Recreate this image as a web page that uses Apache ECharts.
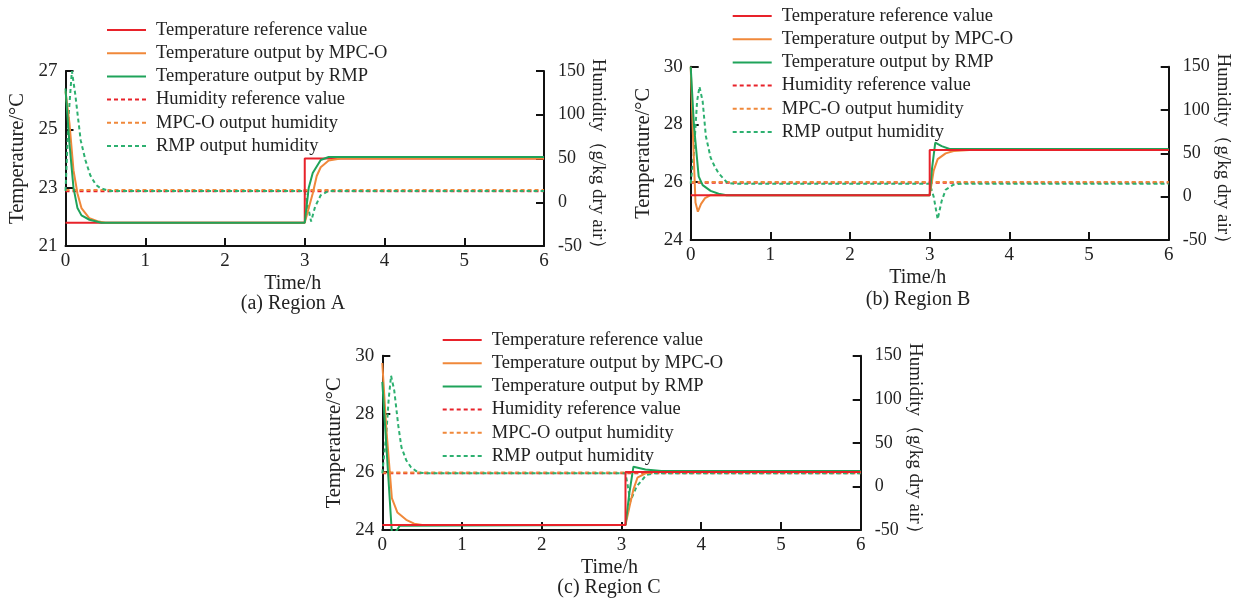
<!DOCTYPE html>
<html>
<head>
<meta charset="utf-8">
<script src="https://cdn.jsdelivr.net/npm/echarts@6/dist/echarts.min.js"></script>
<style>
  html, body { margin: 0; padding: 0; background: #fff; }
  #main { width: 1245px; height: 606px; }
</style>
</head>
<body>
<div id="main"></div>
<script>
// 图例名称
const seriesNames = [
  'Temperature reference value',
  'Temperature output by MPC-O',
  'Temperature output by RMP',
  'Humidity reference value',
  'MPC-O output humidity',
  'RMP output humidity'
];
const captions = ['(a) Region A', '(b) Region B', '(c) Region C'];
const timeRange = [0, 6];
const tempRangeA = [21, 27];
const tempRangeB = [24, 30];
const tempRangeC = [24, 30];
const humRange = [-50, 150];

// Region A  [time(h), value]
const refTempA = [[0, 21.8], [3, 21.8], [3, 24], [6, 24]];
const mpcTempA = [[0, 26.3], [0.05, 25.2], [0.1, 23.6], [0.15, 22.8], [0.2, 22.3], [0.3, 21.95], [0.4, 21.85], [0.5, 21.8],
  [3, 21.8], [3.05, 22.3], [3.1, 22.8], [3.15, 23.4], [3.2, 23.7], [3.3, 23.93], [3.45, 24.0], [6, 24.0]];
const rmpTempA = [[0, 26.4], [0.05, 24.5], [0.1, 23.0], [0.15, 22.3], [0.2, 22.05], [0.3, 21.9], [0.45, 21.8],
  [3, 21.8], [3.05, 23.0], [3.1, 23.5], [3.2, 23.95], [3.3, 24.05], [6, 24.05]];
const refHumA = [[0, 12.5], [6, 12.5]];
const mpcHumA = [[0, 14], [6, 14]];
const rmpHumA = [[0, 13], [0.04, 100], [0.08, 150], [0.12, 125], [0.19, 71], [0.25, 48], [0.31, 31], [0.38, 20], [0.44, 16], [0.55, 13],
  [3, 13], [3.04, -5], [3.08, -22], [3.13, -5], [3.2, 8], [3.3, 13], [6, 13]];

// Region B
const refTempB = [[0, 25.55], [3, 25.55], [3, 27.12], [6, 27.12]];
const mpcTempB = [[0, 30], [0.03, 27.5], [0.06, 25.3], [0.09, 24.98], [0.13, 25.25], [0.18, 25.45], [0.25, 25.55],
  [3, 25.55], [3.05, 26.4], [3.1, 26.8], [3.2, 27.0], [3.3, 27.08], [3.5, 27.12], [6, 27.12]];
const rmpTempB = [[0, 30], [0.04, 28], [0.1, 26.2], [0.15, 25.9], [0.25, 25.7], [0.35, 25.6], [0.45, 25.55],
  [3, 25.55], [3.03, 26.5], [3.07, 27.37], [3.15, 27.25], [3.25, 27.15], [6, 27.15]];
const refHumB = [[0, 16], [6, 16]];
const mpcHumB = [[0, 17], [6, 17]];
const rmpHumB = [[0, 15], [0.04, 50], [0.08, 110], [0.11, 127], [0.15, 110], [0.19, 70], [0.25, 45], [0.3, 35], [0.35, 27], [0.46, 16], [0.55, 15],
  [3, 15], [3.05, 0], [3.1, -26], [3.15, -5], [3.2, 8], [3.3, 14], [3.4, 15], [6, 15]];

// Region C
const refTempC = [[0, 24.17], [3.05, 24.17], [3.05, 26.0], [6, 26.0]];
const mpcTempC = [[0, 29.75], [0.05, 27.5], [0.12, 25.1], [0.19, 24.6], [0.3, 24.35], [0.4, 24.22], [0.5, 24.17],
  [3.05, 24.17], [3.1, 24.8], [3.15, 25.4], [3.2, 25.8], [3.3, 25.95], [3.4, 26.0], [6, 26.0]];
const rmpTempC = [[0, 29.1], [0.06, 26.5], [0.12, 23.9], [0.16, 23.9], [0.22, 24.15],
  [3.05, 24.17], [3.1, 25.3], [3.15, 26.18], [3.3, 26.08], [3.5, 26.03], [6, 26.03]];
const refHumC = [[0, 15], [6, 15]];
const mpcHumC = [[0, 16], [6, 16]];
const rmpHumC = [[0, 15], [0.05, 60], [0.08, 100], [0.11, 127], [0.15, 110], [0.2, 70], [0.24, 45], [0.3, 30], [0.36, 22], [0.45, 16], [0.55, 15],
  [3.05, 15], [3.08, 0], [3.11, -17], [3.19, 0], [3.31, 13], [3.4, 15], [6, 15]];

const FONT = "'Liberation Serif', 'Times New Roman', serif";
const RED = '#e8222a', ORANGE = '#f0883a', GREEN = '#1fa35a', GREEN_D = '#2db070';
const styles = [
  { color: RED, type: 'solid' },
  { color: ORANGE, type: 'solid' },
  { color: GREEN, type: 'solid' },
  { color: RED, type: [4, 3] },
  { color: ORANGE, type: [4, 3] },
  { color: GREEN_D, type: [4, 3] }
];

// refTop: 参考线画在输出曲线上面
const panels = [
  { grid: { left: 65.5, top: 71, width: 478.5, height: 175 }, temp: tempRangeA, refTop: false,
    data: [refTempA, mpcTempA, rmpTempA, refHumA, mpcHumA, rmpHumA], legend: { left: 106, top: 20 }, cap: [293, 294] },
  { grid: { left: 690.7, top: 66.7, width: 478, height: 173.3 }, temp: tempRangeB, refTop: true,
    data: [refTempB, mpcTempB, rmpTempB, refHumB, mpcHumB, rmpHumB], legend: { left: 731.7, top: 6 }, cap: [918, 290] },
  { grid: { left: 382.3, top: 355.7, width: 478.4, height: 174.3 }, temp: tempRangeC, refTop: true,
    data: [refTempC, mpcTempC, rmpTempC, refHumC, mpcHumC, rmpHumC], legend: { left: 441.7, top: 330 }, cap: [609, 578] }
];

const axisLine = { show: true, onZero: false, lineStyle: { color: '#111', width: 2 } };
const axisTick = { show: true, inside: true, length: 8, lineStyle: { color: '#111', width: 2 } };
const labelStyle = { color: '#222', fontFamily: FONT, fontSize: 19 };

const grids = [], xAxes = [], yAxes = [], series = [], legends = [], graphics = [];
panels.forEach((p, i) => {
  grids.push(p.grid);
  xAxes.push({
    type: 'value', gridIndex: i, min: timeRange[0], max: timeRange[1], interval: 1,
    name: 'Time/h', nameLocation: 'middle', nameGap: 28,
    nameTextStyle: { color: '#222', fontFamily: FONT, fontSize: 20, padding: [0, 24, 0, 0] },
    axisLine, axisTick, splitLine: { show: false },
    axisLabel: { ...labelStyle, margin: 6 }
  });
  yAxes.push({
    type: 'value', gridIndex: i, position: 'left', min: p.temp[0], max: p.temp[1], interval: 2,
    name: 'Temperature/°C', nameLocation: 'middle', nameGap: 37, nameRotate: 90,
    nameTextStyle: { color: '#222', fontFamily: FONT, fontSize: 20.5 },
    axisLine, axisTick, splitLine: { show: false },
    axisLabel: { ...labelStyle, margin: 8 }
  });
  yAxes.push({
    type: 'value', gridIndex: i, position: 'right', min: humRange[0], max: humRange[1], interval: 50,
    name: 'Humidity（g/kg dry air）', nameLocation: 'middle', nameGap: 43, nameRotate: -90,
    nameTextStyle: { color: '#222', fontFamily: FONT, fontSize: 19 },
    axisLine, axisTick, splitLine: { show: false },
    axisLabel: { ...labelStyle, fontSize: 18, margin: 14 }
  });
  p.data.forEach((d, k) => {
    let z = k < 3 ? 3 : 2;
    if (k === 0 && p.refTop) z = 4;
    series.push({
      name: seriesNames[k], type: 'line', xAxisIndex: i, yAxisIndex: k < 3 ? 2 * i : 2 * i + 1,
      data: d, symbol: 'none', smooth: false,
      color: styles[k].color,
      lineStyle: { width: 2, color: styles[k].color, type: styles[k].type },
      z: z
    });
  });
  legends.push({
    data: seriesNames, orient: 'vertical', left: p.legend.left, top: p.legend.top,
    padding: 0, itemGap: 3.2, itemWidth: 39, itemHeight: 14,
    itemStyle: { opacity: 0 },
    textStyle: { color: '#222', fontFamily: FONT, fontSize: 18.5, lineHeight: 20, padding: [0, 0, 0, 5] }
  });
  graphics.push({
    type: 'text', x: p.cap[0], y: p.cap[1],
    style: { text: captions[i], font: "20px " + FONT, fill: '#222', align: 'center', verticalAlign: 'top' }
  });
});

const chart = echarts.init(document.getElementById('main'));
chart.setOption({
  animation: false,
  backgroundColor: '#fff',
  grid: grids,
  xAxis: xAxes,
  yAxis: yAxes,
  legend: legends,
  graphic: graphics,
  series: series
});
</script>
</body>
</html>
